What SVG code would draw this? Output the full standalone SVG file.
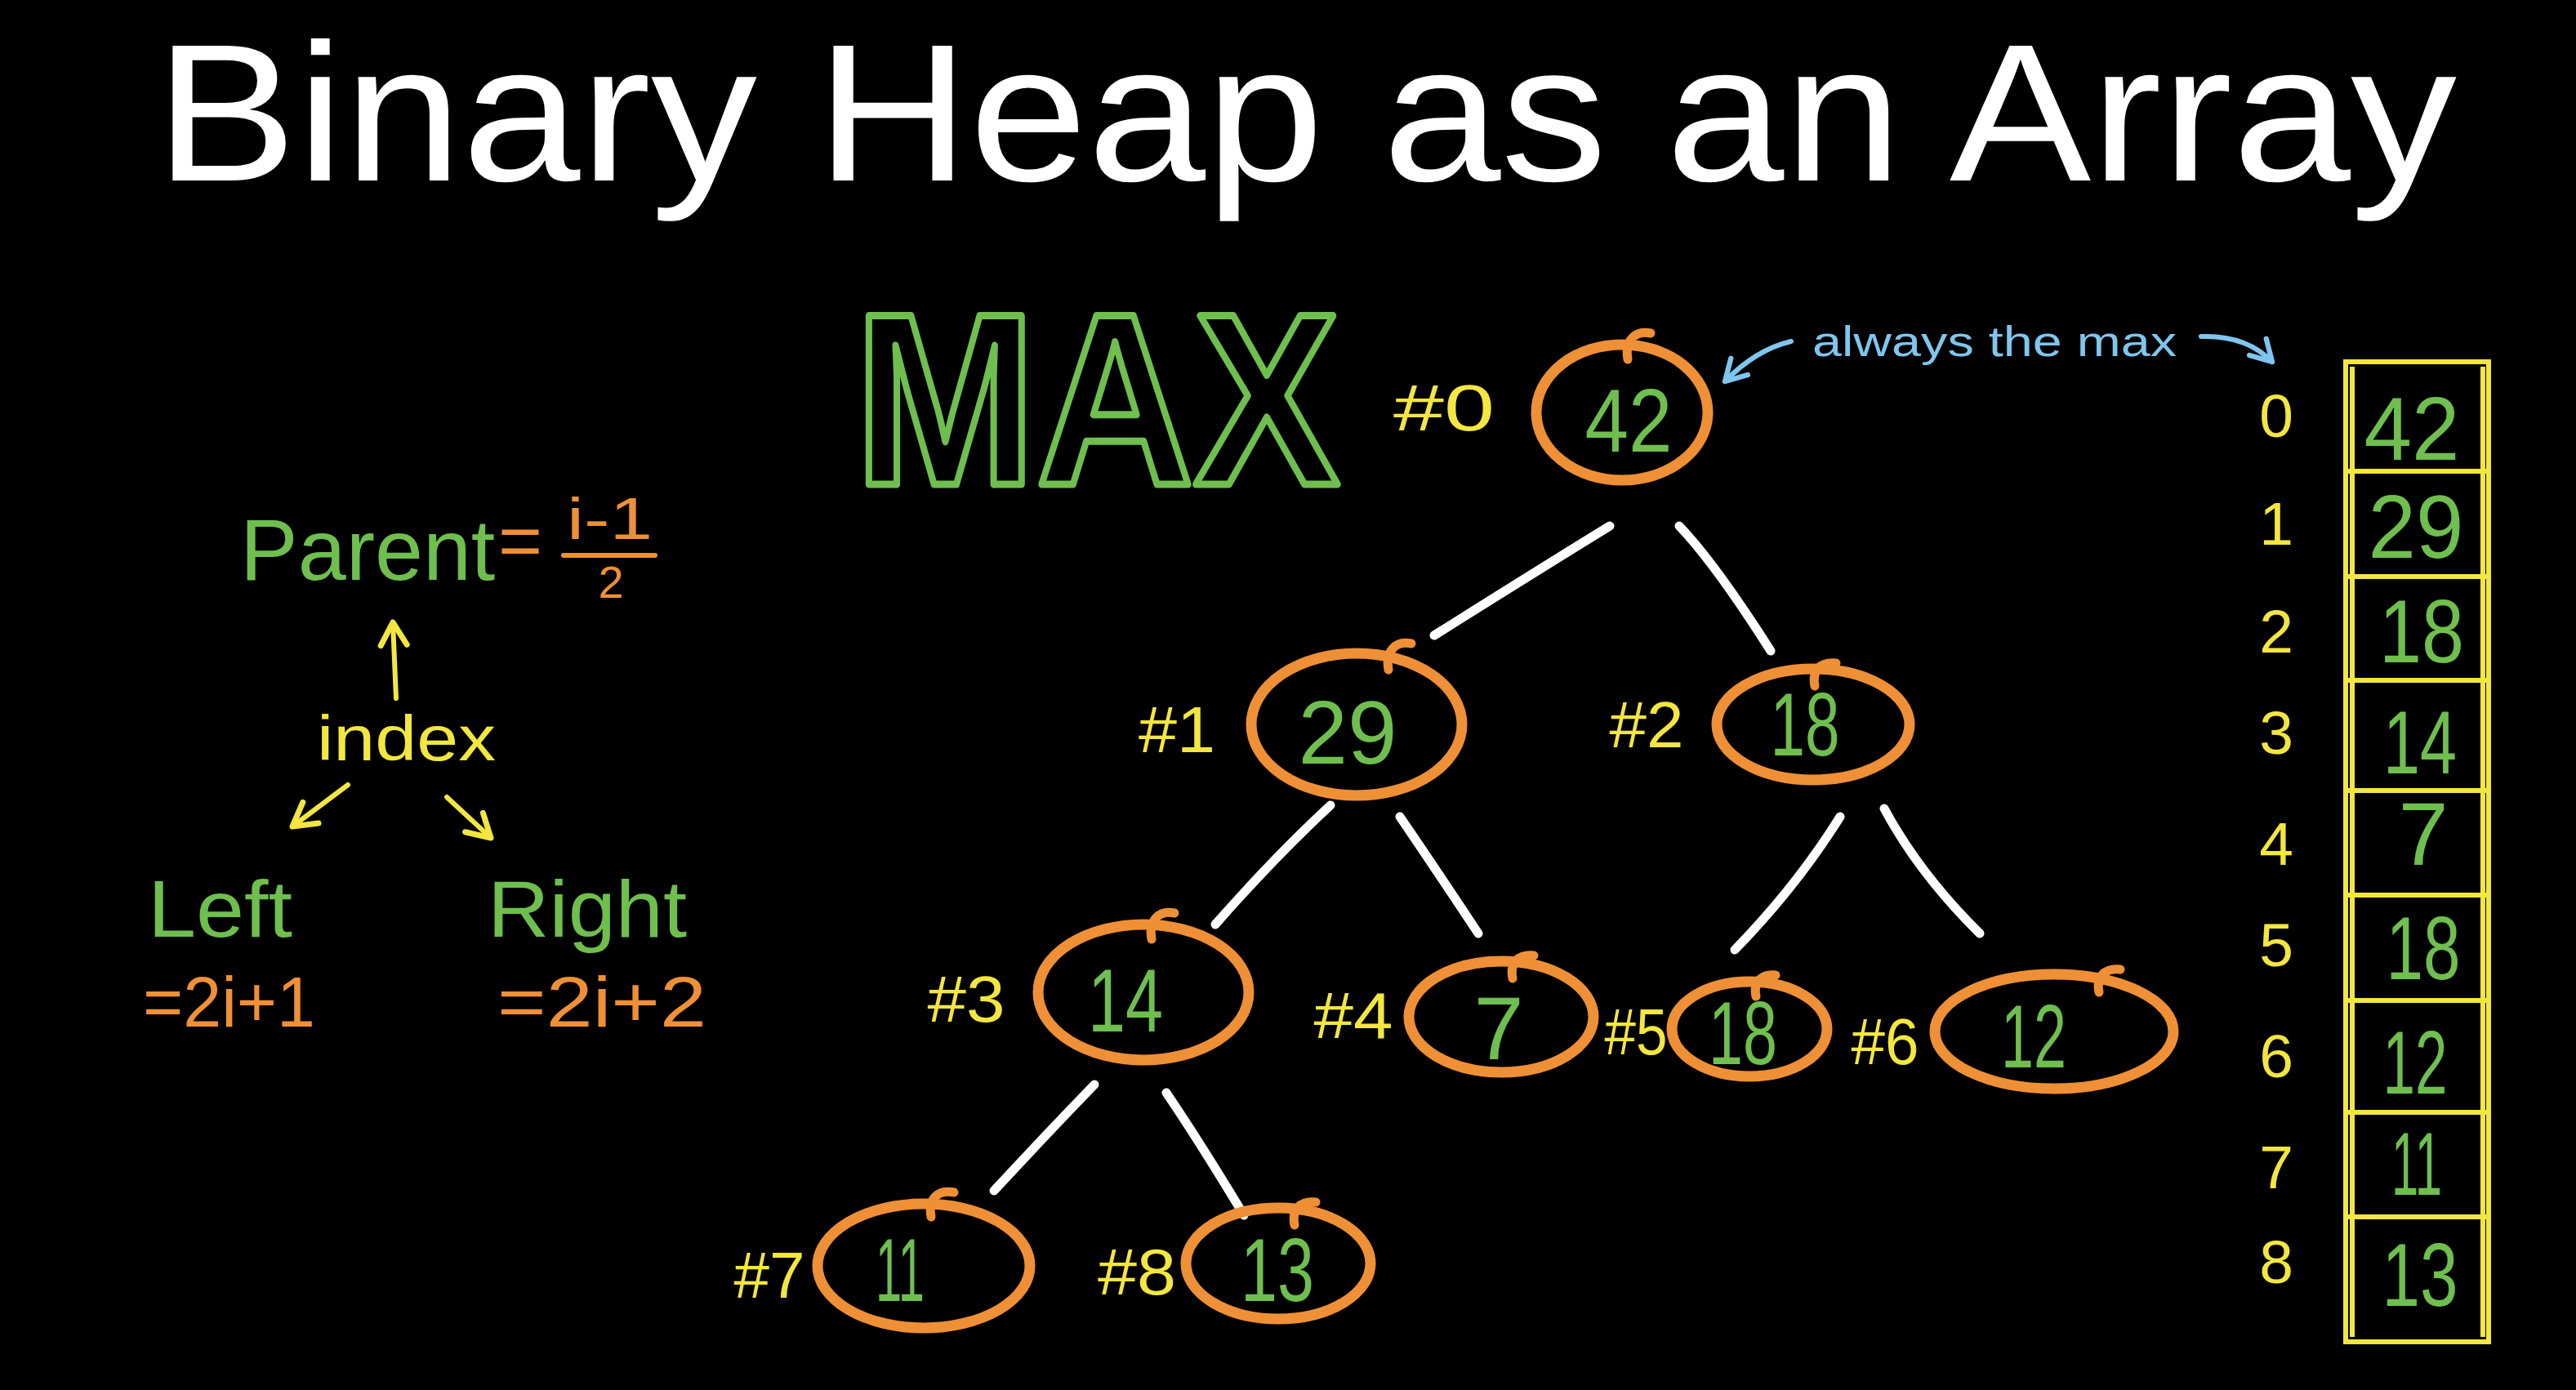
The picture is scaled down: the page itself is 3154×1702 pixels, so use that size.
<svg xmlns="http://www.w3.org/2000/svg" width="3154" height="1702" viewBox="0 0 3154 1702">
<style>
text{font-family:"Liberation Sans","Open Sans",sans-serif}
.title{font-family:"Liberation Sans","Open Sans",sans-serif;fill:#fff}
.val{fill:#6fbf4f;text-anchor:middle;font-size:110px}
.lbl{fill:#f3e63f;text-anchor:middle;font-size:80px}
.idx{fill:#f3e63f;text-anchor:middle;font-size:75px}
.ring{fill:none;stroke:#ef9036;stroke-width:13}
.hook{fill:none;stroke:#ef9036;stroke-width:11;stroke-linecap:round}
.edge{fill:none;stroke:#fff;stroke-width:11;stroke-linecap:round}
.ya{fill:none;stroke:#f3e63f;stroke-width:6;stroke-linecap:round}
.ba{fill:none;stroke:#7fc6ee;stroke-width:6;stroke-linecap:round}
.green{fill:#6fbf4f}
.orange{fill:#ef9036}
.cell{stroke:#f3e63f;stroke-width:6}
</style>
<defs>
<marker id="yhead" viewBox="0 0 20 20" refX="17" refY="10" markerWidth="40" markerHeight="40" markerUnits="userSpaceOnUse" orient="auto">
<path d="M3,2 L17,10 L3,18" fill="none" stroke="#f3e63f" stroke-width="3.5" stroke-linecap="round" stroke-linejoin="round"/>
</marker>
<marker id="bhead" viewBox="0 0 20 20" refX="17" refY="10" markerWidth="36" markerHeight="36" markerUnits="userSpaceOnUse" orient="auto">
<path d="M3,2 L17,10 L3,18" fill="none" stroke="#7fc6ee" stroke-width="3.5" stroke-linecap="round" stroke-linejoin="round"/>
</marker>
</defs>
<rect x="0" y="0" width="3154" height="1702" fill="#000"/>

<text class="title" x="1599" y="221" font-size="240" text-anchor="middle" textLength="2818" lengthAdjust="spacingAndGlyphs">Binary Heap as an Array</text>

<text x="1046" y="593" font-size="300" font-weight="bold" fill="#000" stroke="#6fbf4f" stroke-width="9" stroke-linejoin="round" textLength="594" lengthAdjust="spacingAndGlyphs">MAX</text>

<g id="formulas">
<text class="green" x="294" y="710" font-size="106">Parent</text>
<text class="orange" x="610" y="693" font-size="90" textLength="54" lengthAdjust="spacingAndGlyphs">=</text>
<text class="orange" x="694" y="660" font-size="72" textLength="105" lengthAdjust="spacingAndGlyphs">i-1</text>
<line x1="690" y1="680" x2="802" y2="680" stroke="#ef9036" stroke-width="6" stroke-linecap="round"/>
<text class="orange" x="748" y="732" font-size="56" text-anchor="middle">2</text>
<text x="388" y="931" font-size="77" fill="#f3e63f" textLength="219" lengthAdjust="spacingAndGlyphs">index</text>
<path class="ya" d="M485,855 L481,762" marker-end="url(#yhead)"/>
<path class="ya" d="M426,961 L358,1012" marker-end="url(#yhead)"/>
<path class="ya" d="M547,976 L601,1026" marker-end="url(#yhead)"/>
<text class="green" x="181" y="1147" font-size="98" textLength="177" lengthAdjust="spacingAndGlyphs">Left</text>
<text class="green" x="597" y="1147" font-size="98" textLength="244" lengthAdjust="spacingAndGlyphs">Right</text>
<text class="orange" x="175" y="1257" font-size="88" textLength="211" lengthAdjust="spacingAndGlyphs">=2i+1</text>
<text class="orange" x="609" y="1257" font-size="88" textLength="256" lengthAdjust="spacingAndGlyphs">=2i+2</text>
</g>

<g id="annotation">
<text x="2219" y="436" font-size="52" fill="#7fc6ee" textLength="446" lengthAdjust="spacingAndGlyphs">always the max</text>
<path class="ba" d="M2193,418 Q2150,428 2112,467" marker-end="url(#bhead)"/>
<path class="ba" d="M2695,412 Q2750,410 2782,443" marker-end="url(#bhead)"/>
</g>

<g id="connectors">
<path class="edge" d="M1971,644 Q1880,700 1756,778"/>
<path class="edge" d="M2056,644 Q2100,690 2168,797"/>
<path class="edge" d="M1629,986 Q1560,1050 1488,1132"/>
<path class="edge" d="M1714,1000 Q1755,1060 1810,1143"/>
<path class="edge" d="M2253,1000 Q2200,1085 2124,1163"/>
<path class="edge" d="M2307,990 Q2350,1070 2424,1143"/>
<path class="edge" d="M1340,1328 Q1280,1390 1217,1458"/>
<path class="edge" d="M1428,1338 Q1470,1400 1523,1488"/>
</g>

<g id="node-0">
<ellipse class="ring" cx="1986" cy="505" rx="105" ry="83"/>
<path class="hook" d="M1993,440 c -4,-22 8,-36 28,-32"/>
<text class="val" x="1994" y="553" textLength="107" lengthAdjust="spacingAndGlyphs">42</text>
<text class="lbl" x="1768" y="527" textLength="124" lengthAdjust="spacingAndGlyphs">#0</text>
</g>
<g id="node-1">
<ellipse class="ring" cx="1661" cy="887" rx="129" ry="87"/>
<path class="hook" d="M1700,820 c -4,-22 8,-36 28,-32"/>
<text class="val" x="1650" y="935" textLength="121" lengthAdjust="spacingAndGlyphs">29</text>
<text class="lbl" x="1441" y="921" textLength="94" lengthAdjust="spacingAndGlyphs">#1</text>
</g>
<g id="node-2">
<ellipse class="ring" cx="2220" cy="887" rx="118" ry="68"/>
<path class="hook" d="M2222,840 c -4,-20 8,-30 26,-28"/>
<text class="val" x="2210" y="925" textLength="85" lengthAdjust="spacingAndGlyphs">18</text>
<text class="lbl" x="2016" y="915" textLength="91" lengthAdjust="spacingAndGlyphs">#2</text>
</g>
<g id="node-3">
<ellipse class="ring" cx="1400" cy="1215" rx="129" ry="83"/>
<path class="hook" d="M1410,1150 c -4,-22 8,-36 28,-32"/>
<text class="val" x="1378" y="1263" textLength="92" lengthAdjust="spacingAndGlyphs">14</text>
<text class="lbl" x="1183" y="1251" textLength="95" lengthAdjust="spacingAndGlyphs">#3</text>
</g>
<g id="node-4">
<ellipse class="ring" cx="1838" cy="1245" rx="113" ry="68"/>
<path class="hook" d="M1852,1198 c -4,-20 8,-30 26,-28"/>
<text class="val" x="1835" y="1297">7</text>
<text class="lbl" x="1657" y="1271" textLength="97" lengthAdjust="spacingAndGlyphs">#4</text>
</g>
<g id="node-5">
<ellipse class="ring" cx="2142" cy="1260" rx="95" ry="58"/>
<path class="hook" d="M2150,1220 c -4,-18 8,-28 24,-26"/>
<text class="val" x="2134" y="1303" textLength="84" lengthAdjust="spacingAndGlyphs">18</text>
<text class="lbl" x="2003" y="1291" textLength="77" lengthAdjust="spacingAndGlyphs">#5</text>
</g>
<g id="node-6">
<ellipse class="ring" cx="2515" cy="1263" rx="146" ry="70"/>
<path class="hook" d="M2570,1215 c -4,-20 8,-30 26,-28"/>
<text class="val" x="2490" y="1307" textLength="80" lengthAdjust="spacingAndGlyphs">12</text>
<text class="lbl" x="2308" y="1303" textLength="83" lengthAdjust="spacingAndGlyphs">#6</text>
</g>
<g id="node-7">
<ellipse class="ring" cx="1131" cy="1550" rx="130" ry="76"/>
<path class="hook" d="M1140,1490 c -4,-22 8,-34 28,-30"/>
<text class="val" x="1102" y="1593" textLength="60" lengthAdjust="spacingAndGlyphs">11</text>
<text class="lbl" x="942" y="1589" textLength="87" lengthAdjust="spacingAndGlyphs">#7</text>
</g>
<g id="node-8">
<ellipse class="ring" cx="1565" cy="1547" rx="113" ry="68"/>
<path class="hook" d="M1585,1500 c -4,-20 8,-30 26,-28"/>
<text class="val" x="1564" y="1593" textLength="90" lengthAdjust="spacingAndGlyphs">13</text>
<text class="lbl" x="1392" y="1585" textLength="96" lengthAdjust="spacingAndGlyphs">#8</text>
</g>

<g id="array">
<rect x="2872" y="443" width="175" height="1200" fill="none" class="cell"/>
<line class="cell" x1="2880" y1="449" x2="2880" y2="1637"/>
<line class="cell" x1="3040" y1="449" x2="3040" y2="1637"/>
<line class="cell" x1="2872" y1="577" x2="3047" y2="577"/>
<line class="cell" x1="2872" y1="706" x2="3047" y2="706"/>
<line class="cell" x1="2872" y1="833" x2="3047" y2="833"/>
<line class="cell" x1="2872" y1="968" x2="3047" y2="968"/>
<line class="cell" x1="2872" y1="1096" x2="3047" y2="1096"/>
<line class="cell" x1="2872" y1="1225" x2="3047" y2="1225"/>
<line class="cell" x1="2872" y1="1362" x2="3047" y2="1362"/>
<line class="cell" x1="2872" y1="1490" x2="3047" y2="1490"/>
<text class="val" x="2953" y="563" textLength="117" lengthAdjust="spacingAndGlyphs">42</text>
<text class="val" x="2958" y="683" textLength="117" lengthAdjust="spacingAndGlyphs">29</text>
<text class="val" x="2965" y="811" textLength="104" lengthAdjust="spacingAndGlyphs">18</text>
<text class="val" x="2963" y="947" textLength="90" lengthAdjust="spacingAndGlyphs">14</text>
<text class="val" x="2967" y="1059">7</text>
<text class="val" x="2967" y="1199" textLength="91" lengthAdjust="spacingAndGlyphs">18</text>
<text class="val" x="2957" y="1339" textLength="79" lengthAdjust="spacingAndGlyphs">12</text>
<text class="val" x="2959" y="1463" textLength="62" lengthAdjust="spacingAndGlyphs">11</text>
<text class="val" x="2963" y="1599" textLength="93" lengthAdjust="spacingAndGlyphs">13</text>
<text class="idx" x="2787" y="535">0</text>
<text class="idx" x="2787" y="667">1</text>
<text class="idx" x="2787" y="799">2</text>
<text class="idx" x="2787" y="923">3</text>
<text class="idx" x="2787" y="1059">4</text>
<text class="idx" x="2787" y="1183">5</text>
<text class="idx" x="2787" y="1319">6</text>
<text class="idx" x="2787" y="1455">7</text>
<text class="idx" x="2787" y="1571">8</text>
</g>
</svg>
